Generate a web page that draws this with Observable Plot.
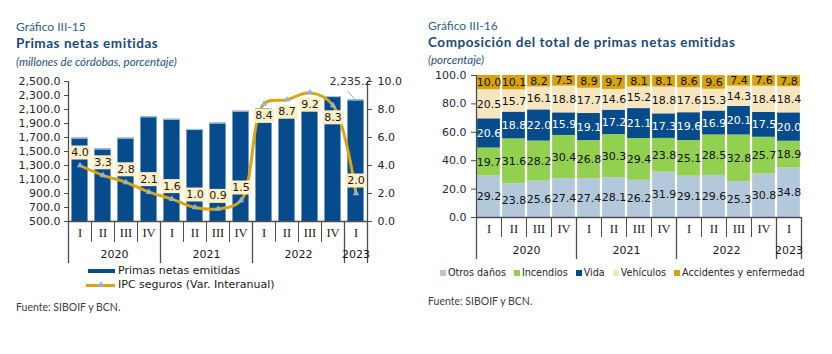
<!DOCTYPE html>
<html><head><meta charset="utf-8">
<script src="https://cdn.jsdelivr.net/npm/d3@7"></script>
<script src="https://cdn.jsdelivr.net/npm/@observablehq/plot@0.6"></script>
<style>
html,body{margin:0;padding:0;background:#fff}
body{width:832px;height:354px;position:relative;overflow:hidden;font-family:Lato,"Open Sans",sans-serif}
.a{position:absolute;white-space:nowrap;line-height:1}
.fig{color:#2f5f91;font-size:12px}
.ttl{color:#164a7e;font-size:13.5px;font-weight:700;letter-spacing:.55px}
.sub{color:#1f4f80;font-size:11.5px;font-style:italic}
.src{color:#404040;font-size:10.5px}
.lg{font-family:"DejaVu Sans";font-size:11px;color:#1a1a1a;line-height:14px}
.lg2{display:flex;align-items:center;font-family:"DejaVu Sans";font-size:9.6px;color:#262626}
.lg2 .sw{width:6px;height:6px;margin-right:2px}
.lg2 .it{display:flex;align-items:center;margin-right:8px}
svg{overflow:visible}
</style></head><body>
<div class="a fig" style="left:16px;top:21px">Gráfico III-15</div>
<div class="a ttl" style="left:16px;top:37px">Primas netas emitidas</div>
<div class="a sub" style="left:16px;top:56px">(millones de córdobas, porcentaje)</div>
<div class="a fig" style="left:428px;top:20px">Gráfico III-16</div>
<div class="a ttl" style="left:428px;top:36px">Composición del total de primas netas emitidas</div>
<div class="a sub" style="left:428px;top:54px">(porcentaje)</div>
<div id="c1" class="a" style="left:0;top:70px"></div>
<div id="c2" class="a" style="left:415px;top:60px"></div>
<div id="leg1"></div>
<div id="leg2" class="a lg2" style="left:440px;top:268px"></div>
<div class="a src" style="left:16px;top:302px">Fuente: SIBOIF y BCN.</div>
<div class="a src" style="left:428px;top:296px">Fuente: SIBOIF y BCN.</div>
<script>
// ---------- data ----------
const quarters = ["I","II","III","IV","I","II","III","IV","I","II","III","IV","I"];
const quarterYears = ["2020","2020","2020","2020","2021","2021","2021","2021","2022","2022","2022","2022","2023"];
const primasNetas = [1690, 1535, 1690, 1995, 1960, 1815, 1905, 2075, 2110, 2100, 2230, 2285, 2235.2];
const ipcSeguros = [4.0, 3.3, 2.8, 2.1, 1.6, 1.0, 0.9, 1.5, 8.4, 8.7, 9.2, 8.3, 2.0];
const primasTicks = [500, 700, 900, 1100, 1300, 1500, 1700, 1900, 2100, 2300, 2500];
const ipcTicks = [0, 2, 4, 6, 8, 10];
const pctTicks = [0, 20, 40, 60, 80, 100];
const seriesNames = ["Otros daños", "Incendios", "Vida", "Vehículos", "Accidentes y enfermedad"];
const otrosDanos = [29.2, 23.8, 25.6, 27.4, 27.4, 28.1, 26.2, 31.9, 29.1, 29.6, 25.3, 30.8, 34.8];
const incendios  = [19.7, 31.6, 28.2, 30.4, 26.8, 30.3, 29.4, 23.8, 25.1, 28.5, 32.8, 25.7, 18.9];
const vida       = [20.6, 18.8, 22.0, 15.9, 19.1, 17.2, 21.1, 17.3, 19.6, 16.9, 20.1, 17.5, 20.0];
const vehiculos  = [20.5, 15.7, 16.1, 18.8, 17.7, 14.6, 15.2, 18.8, 17.6, 15.3, 14.3, 18.4, 18.4];
const accidentes = [10.0, 10.1, 8.2, 7.5, 8.9, 9.7, 8.1, 8.1, 8.6, 9.6, 7.4, 7.6, 7.8];
const seriesValues = [otrosDanos, incendios, vida, vehiculos, accidentes];
const seriesColors = ["#b4c8dc", "#92d050", "#064c8c", "#f6e6bf", "#d8a20a"];

// ---------- helpers ----------
const ids = quarters.map((q, i) => quarterYears[i] + "-" + q);
const n = ids.length;
const axisColor = "#4d4d4d";

function xAxisMarks(step, plotH, shortLen, longLen, rightAxisFull) {
  const marks = [];
  const shortSep = ids.filter((id, i) => i < n - 1 && quarterYears[i + 1] === quarterYears[i]);
  const yearStart = ids.filter((id, i) => i > 0 && quarterYears[i - 1] !== quarterYears[i]);
  marks.push(Plot.ruleX(shortSep, {dx: step / 2, insetTop: plotH, insetBottom: -shortLen, stroke: axisColor}));
  marks.push(Plot.ruleX(yearStart, {dx: -step / 2, insetTop: plotH, insetBottom: -longLen, stroke: axisColor, strokeWidth: 1.3}));
  marks.push(Plot.ruleX([ids[0]], {dx: -step / 2, insetTop: 0, insetBottom: -longLen, stroke: axisColor, strokeWidth: 1.3}));
  marks.push(Plot.ruleX([ids[n - 1]], {dx: step / 2, insetTop: rightAxisFull ? 0 : plotH, insetBottom: -longLen, stroke: axisColor, strokeWidth: 1.3}));
  marks.push(Plot.text(ids.map((id, i) => ({id, q: quarters[i]})), {
    x: "id", text: "q", frameAnchor: "bottom", dy: 15,
    fontFamily: "Liberation Serif", fontSize: 12.5, fill: "#1a1a1a"
  }));
  // year labels
  const yrs = [...new Set(quarterYears)].map(yr => ({
    yr, first: ids[quarterYears.indexOf(yr)], count: quarterYears.filter(y => y === yr).length
  }));
  for (const c of [...new Set(yrs.map(d => d.count))]) {
    marks.push(Plot.text(yrs.filter(d => d.count === c), {
      x: "first", text: "yr", frameAnchor: "bottom", dy: 36, dx: (c - 1) * step / 2,
      fontSize: 11, fill: "#1a1a1a"
    }));
  }
  return marks;
}

// ---------- left chart ----------
{
  const W = 410, H = 200, ml = 68, mr = 43, mt = 11, mb = 49;
  const step = (W - ml - mr) / n, plotH = H - mt - mb;
  const yMin = primasTicks[0], yMax = primasTicks[primasTicks.length - 1];
  const rMin = ipcTicks[0], rMax = ipcTicks[ipcTicks.length - 1];
  const toPrimas = v => yMin + (v - rMin) * (yMax - yMin) / (rMax - rMin);
  const fromPrimas = d => rMin + (d - yMin) * (rMax - rMin) / (yMax - yMin);
  const barData = ids.map((id, i) => ({id, v: primasNetas[i]}));
  const ipcData = ids.map((id, i) => ({id, r: ipcSeguros[i], y: toPrimas(ipcSeguros[i])}));
  const boxSym = {draw(ctx) { ctx.rect(-10.5, -7, 21, 14); }};
  const leaderSym = {draw(ctx) { ctx.moveTo(-3.5, -3.8); ctx.lineTo(3.5, 3.8); }};
  const above = ipcData.filter(d => d.r < 5), below = ipcData.filter(d => d.r >= 5);
  const last = [barData[n - 1]];
  const svg = Plot.plot({
    width: W, height: H, marginLeft: ml, marginRight: mr, marginTop: mt, marginBottom: mb,
    x: {type: "band", domain: ids, paddingInner: 0.3, paddingOuter: 0.15, round: false, axis: null},
    y: {domain: [yMin, yMax], axis: null},
    style: {fontFamily: "DejaVu Sans", fontSize: "11px", color: "#262626", background: "transparent", overflow: "visible"},
    marks: [
      Plot.barY(barData, {x: "id", y1: yMin, y2: "v", fill: "#064c8c"}),
      Plot.tickY(barData, {x: "id", y: "v", stroke: "#a8c6e6", strokeWidth: 1.2}),
      Plot.ruleY([yMin], {stroke: axisColor, strokeWidth: 1.3}),
      ...xAxisMarks(step, plotH, 21, 42, true),
      Plot.axisY(primasTicks, {anchor: "left", tickFormat: d3.format(",.1f"), tickSize: 4, tickPadding: 4, stroke: axisColor, label: null, fill: "#262626"}),
      Plot.axisY(ipcTicks.map(toPrimas), {anchor: "right", tickFormat: d => fromPrimas(d).toFixed(1), tickSize: 4, tickPadding: 6, stroke: axisColor, label: null, fill: "#262626"}),
      Plot.line(ipcData, {x: "id", y: "y", stroke: "#d9a514", strokeWidth: 3, curve: "catmull-rom"}),
      Plot.dot(ipcData, {x: "id", y: "y", symbol: "triangle", r: 2.4, fill: "#8fb3d9", stroke: "none"}),
      Plot.dot(above, {x: "id", y: "y", dy: -13, symbol: boxSym, fill: "#fcefc6", stroke: "none"}),
      Plot.dot(below, {x: "id", y: "y", dy: 12, symbol: boxSym, fill: "#fcefc6", stroke: "none"}),
      Plot.text(above, {x: "id", y: "y", dy: -13, text: d => d.r.toFixed(1), fill: "#1a1a1a"}),
      Plot.text(below, {x: "id", y: "y", dy: 12, text: d => d.r.toFixed(1), fill: "#1a1a1a"}),
      Plot.dot(last, {x: "id", y: "v", dx: -4.8, dy: -5, symbol: leaderSym, fill: "none", stroke: "#a6a6a6", strokeWidth: 1}),
      Plot.text(last, {x: "id", y: "v", dx: -5.5, dy: -18.5, text: d => d3.format(",.1f")(d.v), fill: "#333"})
    ]
  });
  document.getElementById("c1").appendChild(svg);

  const leg = document.getElementById("leg1");
  leg.innerHTML = `
    <div class="a" style="left:88px;top:269px;width:27px;height:4px;background:#064c8c"></div>
    <div class="a lg" style="left:118px;top:264px">Primas netas emitidas</div>
    <div class="a" style="left:86px;top:283.5px;width:29px;height:3px;background:#d9a514"></div>
    <svg class="a" style="left:97px;top:280px" width="8" height="8"><path d="M4,1.2L7,6.5H1Z" fill="#8fb3d9"/></svg>
    <div class="a lg" style="left:118px;top:278px">IPC seguros (Var. Interanual)</div>`;
}

// ---------- right chart ----------
{
  const W = 417, H = 210, ml = 61, mr = 31, mt = 15, mb = 53;
  const step = (W - ml - mr) / n, plotH = H - mt - mb;
  const rows = [];
  seriesNames.forEach((s, k) => ids.forEach((id, i) => rows.push({id, serie: s, v: seriesValues[k][i]})));
  const svg = Plot.plot({
    width: W, height: H, marginLeft: ml, marginRight: mr, marginTop: mt, marginBottom: mb,
    x: {type: "band", domain: ids, paddingInner: 0.09, paddingOuter: 0.045, round: false, axis: null},
    y: {domain: [pctTicks[0], pctTicks[pctTicks.length - 1]], axis: null},
    color: {domain: seriesNames, range: seriesColors},
    style: {fontFamily: "DejaVu Sans", fontSize: "11px", color: "#262626", background: "transparent", overflow: "visible"},
    marks: [
      Plot.barY(rows, {x: "id", y: "v", fill: "serie", order: seriesNames}),
      Plot.text(rows, Plot.stackY({x: "id", y: "v", z: "serie", order: seriesNames,
        text: d => d.v.toFixed(1), fill: d => d.serie === "Vida" ? "#ffffff" : "#111111"})),
      Plot.ruleY([pctTicks[0]], {stroke: axisColor, strokeWidth: 1.3}),
      ...xAxisMarks(step, plotH, 20, 42, false),
      Plot.axisY(pctTicks, {anchor: "left", tickFormat: d3.format(".1f"), tickSize: 5, tickPadding: 5, stroke: axisColor, label: null, fill: "#1b2a44"})
    ]
  });
  document.getElementById("c2").appendChild(svg);

  const leg = document.getElementById("leg2");
  seriesNames.forEach((s, k) => {
    const it = document.createElement("div");
    it.className = "it";
    it.innerHTML = `<div class="sw" style="background:${seriesColors[k]}"></div><span>${s}</span>`;
    leg.appendChild(it);
  });
}
</script>
</body></html>
